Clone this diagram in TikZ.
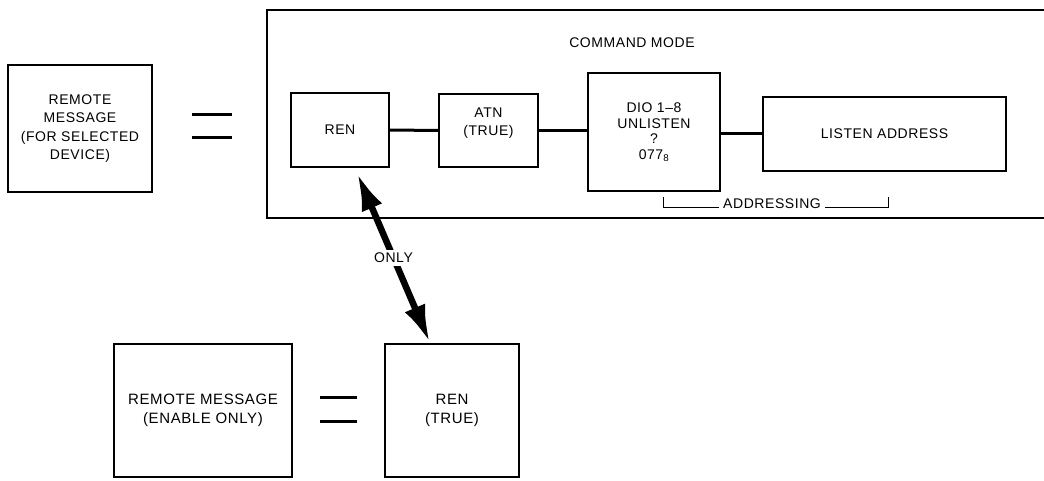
\documentclass[tikz,border=0pt]{standalone}
\usepackage{fontspec}
\setmainfont{Liberation Sans}[LetterSpace=4]
\usetikzlibrary{arrows.meta,calc}
\begin{document}
\begin{tikzpicture}[x=1pt,y=-1pt,
  box/.style={draw,line width=1.6pt,inner sep=0pt,align=center,font=\fontsize{14}{18.5}\selectfont},
  bigbox/.style={box,line width=2.2pt,font=\fontsize{15}{19}\selectfont},
  link/.style={line width=3pt},
  eqline/.style={line width=3pt},
  frame/.style={line width=2.4pt},
  bracket/.style={line width=0.9pt},
  lbl/.style={font=\fontsize{14}{18.5}\selectfont,inner sep=1pt},
  dbl/.style={line width=6.5pt,{Latex[length=38pt,width=22pt]}-{Latex[length=38pt,width=22pt]}}]
\useasboundingbox (0,0) rectangle (1044,481);
\fill[white] (0,0) rectangle (1044,481);

% upper left
\node[box,minimum width=144pt,minimum height=127pt] (rm1) at (80,128.5)
  {REMOTE\\MESSAGE\\(FOR SELECTED\\DEVICE)};
\draw[eqline] (192,115) -- (232,115);
\draw[eqline] (192,138) -- (232,138);

% command mode frame (open on the right)
\draw[frame] (1044,10) -- (267,10) -- (267,218) -- (1044,218);
\node[lbl] (cmd) at (632,43) {COMMAND MODE};

\node[box,minimum width=98pt,minimum height=74pt] (ren) at (340,130) {REN};
\node[box,minimum width=99pt,minimum height=73pt] (atn) at (488.5,130.5) {ATN\\(TRUE)\\[-6pt]\strut};
\node[box,minimum width=132pt,minimum height=118pt,font=\fontsize{14}{15.5}\selectfont] (dio) at (654,132)
  {DIO 1--8\\UNLISTEN\\?\\077$_{\mathrm{8}}$};
\node[box,minimum width=243pt,minimum height=74pt] (lis) at (884.5,134) {LISTEN ADDRESS};

\draw[link] (ren.east) -- (atn.west);
\draw[link] (atn.east) -- (atn.east -| dio.west);
\draw[link] (dio.east |- lis.west) -- (lis.west);

% addressing bracket
\node[lbl] (addr) at (772,204) {ADDRESSING};
\coordinate (bl) at (663,197);
\coordinate (br) at (888,197);
\draw[bracket] (bl) |- ([xshift=-3pt,yshift=-3pt]addr.west);
\draw[bracket] (br) |- ([xshift=3pt,yshift=-3pt]addr.east);

% lower row
\node[bigbox,minimum width=178pt,minimum height=133pt] (rm2) at (203,410.5)
  {REMOTE MESSAGE\\(ENABLE ONLY)};
\draw[eqline] (320,397) -- (357,397);
\draw[eqline] (320,421) -- (357,421);
\node[bigbox,minimum width=134pt,minimum height=133pt] (ren2) at (452,410.5) {REN\\(TRUE)};

% double arrow
\coordinate (t1) at ([xshift=17pt,yshift=-5pt]ren.south);
\coordinate (t2) at ([xshift=-22pt]ren2.north);
\draw[dbl] (t1) -- node[lbl,fill=white,inner sep=3pt] (only) {ONLY} (t2);
\end{tikzpicture}
\end{document}
